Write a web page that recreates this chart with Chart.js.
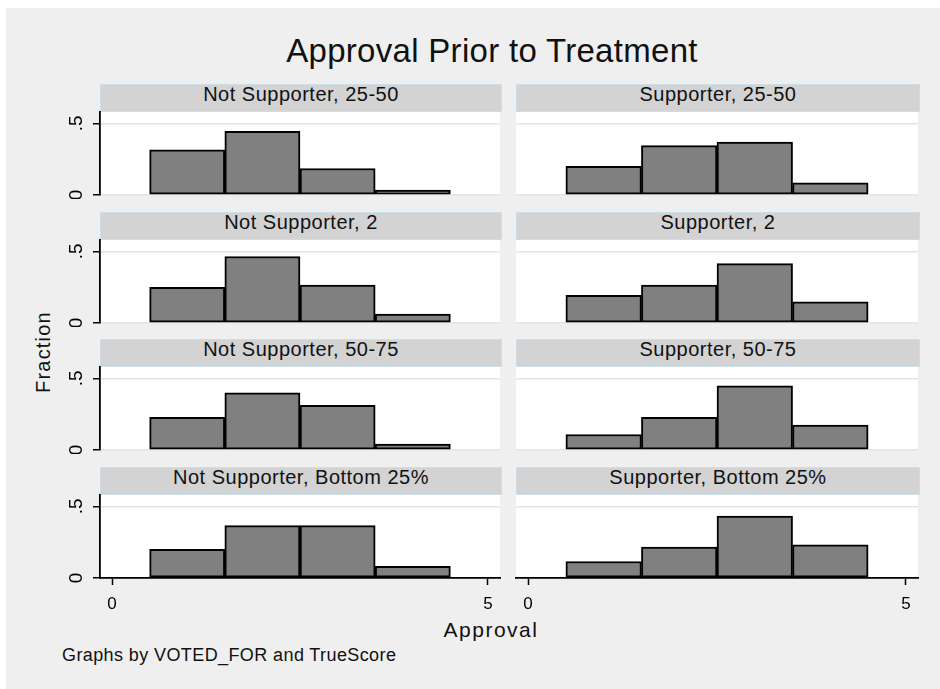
<!DOCTYPE html>
<html>
<head>
<meta charset="utf-8">
<script src="https://cdn.jsdelivr.net/npm/chart.js@4.4.1/dist/chart.umd.min.js"></script>
<style>
    body { margin: 0; width: 940px; height: 689px; background: #fff; position: relative; overflow: hidden; font-family: "Liberation Sans", Arial, sans-serif; color: #111; }
    #bg { position: absolute; left: 6px; top: 8px; right: 0; bottom: 0; background: #efefef; }
    .strip { position: absolute; height: 28px; box-sizing: border-box; background: #d3d3d3; border: 1px solid #cadfe9; text-align: center; font-size: 20px; line-height: 18px; letter-spacing: 0.5px; white-space: nowrap; }
    .txt { position: absolute; white-space: nowrap; }
    canvas { position: absolute; }
</style>
</head>
<body>
<div id="bg"></div>
<div class="txt" style="left:0; width:984px; top:34px; text-align:center; font-size:33px; line-height:33px; letter-spacing:0.3px;">Approval Prior to Treatment</div>
<div class="txt" style="left:-17px; width:120px; top:342px; height:20px; text-align:center; font-size:20px; line-height:20px; letter-spacing:1.2px; transform:rotate(-90deg);">Fraction</div>
<div class="txt" style="left:0; width:982px; top:619px; text-align:center; font-size:21px; line-height:21px; letter-spacing:1.5px;">Approval</div>
<div class="txt" style="left:62px; top:646px; font-size:18px; line-height:18px; letter-spacing:0.4px;">Graphs by VOTED_FOR and TrueScore</div>

<script>
// histogram bins (centre of each unit-wide bar)
var bins = [1, 2, 3, 4];
var xTicks = [0, 5];
var xTickLabels = ['0', '5'];
var yTicks = [0, 0.5];
var yTickLabels = ['0', '.5'];

var colLabels = ['Not Supporter', 'Supporter'];
var rowLabels = ['25-50', '2', '50-75', 'Bottom 25%'];

// fraction per bin
var notSupporter2550 = [0.315, 0.445, 0.185, 0.035];
var supporter2550 = [0.20, 0.345, 0.37, 0.085];
var notSupporter2 = [0.25, 0.465, 0.265, 0.063];
var supporter2 = [0.194, 0.265, 0.415, 0.148];
var notSupporter5075 = [0.228, 0.40, 0.313, 0.042];
var supporter5075 = [0.108, 0.228, 0.448, 0.175];
var notSupporterBottom = [0.20, 0.366, 0.366, 0.082];
var supporterBottom = [0.115, 0.216, 0.432, 0.232];

var panelValues = [
    [notSupporter2550, supporter2550],
    [notSupporter2, supporter2],
    [notSupporter5075, supporter5075],
    [notSupporterBottom, supporterBottom]
];

Chart.defaults.font.family = '"Liberation Sans", Arial, sans-serif';
Chart.defaults.color = '#000';

// white plot region
var plotBackground = {
    id: 'plotBackground',
    beforeDraw: function( chart ) {
        var a = chart.chartArea;
        var ctx = chart.ctx;
        ctx.save();
        ctx.fillStyle = '#ffffff';
        ctx.fillRect( a.left, a.top, a.right - a.left, a.bottom - a.top );
        ctx.restore();
    }
};

// layout of the grid of panels
var rowTops = [112, 240, 367, 495];
var plotHeight = 83;
var topPad = 6;

function noPadding( scale ) {
    scale.paddingTop = 0;
    scale.paddingBottom = 0;
    scale.paddingLeft = 0;
    scale.paddingRight = 0;
}

for ( var r = 0; r < rowLabels.length; r++ ) {
    for ( var c = 0; c < colLabels.length; c++ ) {
        var isLeft = c === 0;
        var isBottom = r === rowLabels.length - 1;

        // strip above the panel
        var strip = document.createElement( 'div' );
        strip.className = 'strip';
        strip.style.left = ( isLeft ? 100 : 516 ) + 'px';
        strip.style.width = ( isLeft ? 402 : 404 ) + 'px';
        strip.style.top = ( rowTops[r] - 28 ) + 'px';
        strip.textContent = colLabels[c] + ', ' + rowLabels[r];
        document.body.appendChild( strip );

        var canvasLeft = isLeft ? 40 : 510;
        var axisWidth = isLeft ? 60 : 6;
        var padRight = isLeft ? 2 : 4;
        var plotRight = isLeft ? 500 : 918;
        var xAxisHeight = isBottom ? 40 : 0;
        var padBottom = isBottom ? 2 : 4;

        var canvas = document.createElement( 'canvas' );
        canvas.width = plotRight + padRight - canvasLeft;
        canvas.height = topPad + plotHeight + xAxisHeight + padBottom;
        canvas.style.left = canvasLeft + 'px';
        canvas.style.top = ( rowTops[r] - topPad ) + 'px';
        document.body.appendChild( canvas );

        var values = panelValues[r][c];

        new Chart( canvas, {
            type: 'bar',
            data: {
                datasets: [ {
                    data: bins.map( function( b, i ) { return { x: b, y: values[i] }; } ),
                    backgroundColor: '#808080',
                    borderColor: '#000000',
                    borderWidth: 2,
                    borderSkipped: false,
                    barPercentage: 1,
                    categoryPercentage: 1
                } ]
            },
            options: {
                responsive: false,
                animation: false,
                events: [],
                layout: {
                    padding: { top: topPad, right: padRight, bottom: padBottom, left: 0 }
                },
                plugins: {
                    legend: { display: false },
                    tooltip: { enabled: false }
                },
                scales: {
                    x: {
                        type: 'linear',
                        min: -0.16,
                        max: 5.16,
                        offset: false,
                        display: isBottom,
                        afterBuildTicks: function( scale ) {
                            scale.ticks = xTicks.map( function( v ) { return { value: v }; } );
                        },
                        afterFit: function( scale ) {
                            scale.height = xAxisHeight;
                            noPadding( scale );
                        },
                        grid: {
                            offset: false,
                            drawOnChartArea: false,
                            tickColor: '#000',
                            tickLength: 7,
                            tickWidth: 1.5
                        },
                        border: { display: true, color: '#000', width: 1.8 },
                        ticks: {
                            padding: 9,
                            maxRotation: 0,
                            font: { size: 17 },
                            callback: function( v, i ) { return xTickLabels[i]; }
                        }
                    },
                    y: {
                        min: 0,
                        max: 0.58,
                        afterBuildTicks: function( scale ) {
                            scale.ticks = yTicks.map( function( v ) { return { value: v }; } );
                        },
                        afterFit: ( function( w ) {
                            return function( scale ) {
                                scale.width = w;
                                noPadding( scale );
                            };
                        } )( axisWidth ),
                        grid: {
                            color: '#e4e4e4',
                            lineWidth: 1.5,
                            drawTicks: isLeft,
                            tickColor: '#000',
                            tickLength: 7,
                            tickWidth: 1.5
                        },
                        border: { display: isLeft, color: '#000', width: 1.8 },
                        ticks: {
                            display: isLeft,
                            minRotation: 90,
                            maxRotation: 90,
                            crossAlign: 'center',
                            padding: 8,
                            font: { size: 19 },
                            callback: function( v, i ) { return yTickLabels[i]; }
                        }
                    }
                }
            },
            plugins: [ plotBackground ]
        } );
    }
}
</script>
</body>
</html>
